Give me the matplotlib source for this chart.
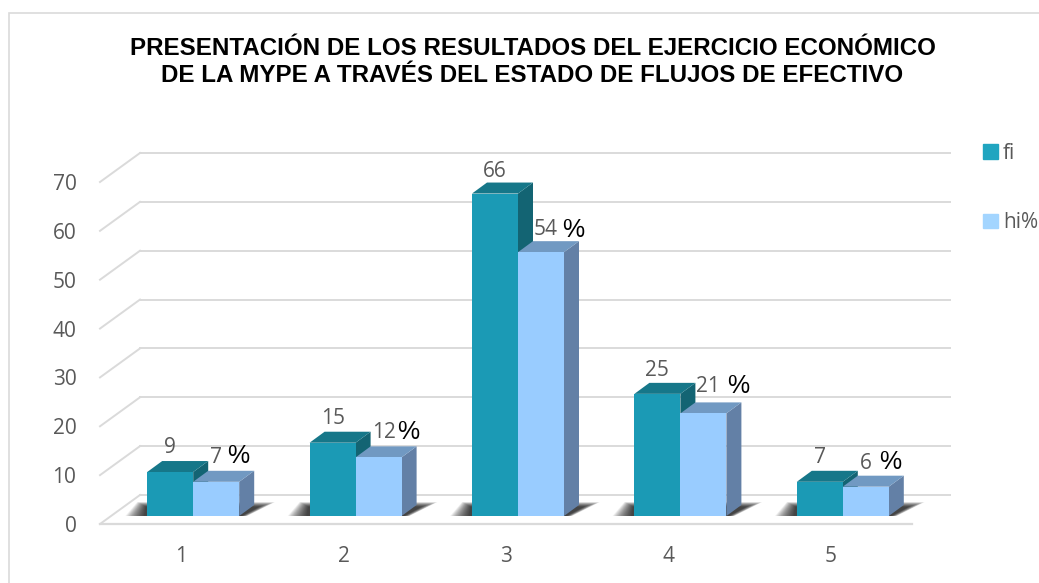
"""3D-look bar chart: fi / hi% per option (Excel style columns)."""
import matplotlib

matplotlib.use("Agg")
import matplotlib.pyplot as plt
from matplotlib.patches import Patch, Rectangle
from matplotlib.transforms import Affine2D

categories = ["1", "2", "3", "4", "5"]
fi = [9, 15, 66, 25, 7]
hi = [7, 12, 54, 21, 6]
yticks = [0, 10, 20, 30, 40, 50, 60, 70]

W, H = 1039, 583
L, R, B, T = 100, 912, 524, 182   # front plane of the plot, in pixels
PX_X = (R - L) / 5                # px per category
PX_Y = (B - T) / 70               # px per unit

GREY = "#595959"
LINE = "#dadada"
C_FI, C_FI_TOP, C_FI_SIDE = "#1b9ab5", "#167789", "#136473"
C_HI, C_HI_TOP, C_HI_SIDE = "#99ccff", "#7199c2", "#6380a6"

plt.rcParams["font.family"] = ["Open Sans", "DejaVu Sans"]
fig = plt.figure(figsize=(W / 100, H / 100), dpi=100)
ax = fig.add_axes([L / W, 1 - B / H, (R - L) / W, (B - T) / H])
ax.set_xlim(0.5, 5.5); ax.set_ylim(0, 70)
ax.patch.set_visible(False)
for s in ax.spines.values():
    s.set_visible(False)

# bars sit a few pixels behind the front plane
OFF = ax.transData + Affine2D().translate(12, 8)

# page frame, runs off the right and bottom edges
fig.add_artist(Rectangle((9 / W, -0.01), 1.1, 1 - 13 / H + 0.01, transform=fig.transFigure,
                         fill=False, ec=LINE, lw=1.2))

# walls and floor
WD_X, WD_Y = 40 / PX_X, 29 / PX_Y
for v in yticks:
    ax.plot([0.5, 0.5 + WD_X], [v, v + WD_Y], color=LINE, lw=1.4, clip_on=False, zorder=1)
    ax.plot([0.5 + WD_X, 5.5 + 38 / PX_X], [v + WD_Y, v + WD_Y], color=LINE, lw=1.4,
            clip_on=False, zorder=1)
ax.plot([0.5, 5.5], [0, 0], color=LINE, lw=1.6, clip_on=False, zorder=1)

# bars
BW = 46 / PX_X
BD_X, BD_Y = 15 / PX_X, 11 / PX_Y
N_SHADOW = 30
for i, (a, b) in enumerate(zip(fi, hi)):
    x = i + 1
    # floor shadow, stacked translucent layers fading outwards
    xl, xr = x - BW, x + BW
    for k in range(N_SHADOW):
        e = (N_SHADOW - k) / N_SHADOW
        top = (9 + 5 * e) / PX_Y
        ax.fill([xl - (2 + 20 * e) / PX_X, xr + (2 + 6 * e) / PX_X,
                 xr + (19 + 17 * e) / PX_X, xl - (1 + 9 * e) / PX_X],
                [0, 0, top, top], color="black", alpha=0.04, lw=0,
                transform=OFF, clip_on=False, zorder=2)
    for x0, v, c, ct, cs, z in [(x - BW, a, C_FI, C_FI_TOP, C_FI_SIDE, 3),
                                (x, b, C_HI, C_HI_TOP, C_HI_SIDE, 4)]:
        ax.fill([x0 + BW, x0 + BW + BD_X, x0 + BW + BD_X, x0 + BW],
                [0, BD_Y, v + BD_Y, v], color=cs, lw=0, transform=OFF, clip_on=False, zorder=z)
        ax.fill([x0, x0 + BD_X, x0 + BW + BD_X, x0 + BW],
                [v, v + BD_Y, v + BD_Y, v], color=ct, lw=0, transform=OFF, clip_on=False, zorder=z)
        ax.bar(x0, v, BW, align="edge", color=c, transform=OFF, clip_on=False, zorder=z + 0.5)

# value labels, hand placed like the original
fi_dy = [25, 24, 22, 23, 24]
hi_dx = [0, 5, 5, 5, 0]
hi_dy = [24, 25, 23, 27, 23]
pct_dx = [22, 30, 32, 35, 24]
pct_dy = [26, 25, 22, 27, 25]
for i, (a, b) in enumerate(zip(fi, hi)):
    x = i + 1
    ax.annotate(str(a), (x - BW / 2, a), xytext=(0, fi_dy[i]), textcoords="offset pixels",
                xycoords=OFF, ha="center", va="center", color=GREY, fontsize=15, zorder=6)
    ax.annotate(str(b), (x + BW / 2, b), xytext=(hi_dx[i], hi_dy[i]), textcoords="offset pixels",
                xycoords=OFF, ha="center", va="center", color=GREY, fontsize=15, zorder=6)
    ax.annotate("%", (x + BW / 2, b), xytext=(pct_dx[i], pct_dy[i]), textcoords="offset pixels",
                xycoords=OFF, ha="center", va="center", color="black", fontsize=18,
                family=["Liberation Sans"], zorder=6)

ax.set_xticks(range(1, 6), categories)
ax.set_yticks(yticks)
ax.tick_params(length=0, labelsize=15, labelcolor=GREY)
ax.tick_params(axis="y", pad=17)
ax.tick_params(axis="x", pad=16)

fig.text(532.5 / W, 1 - 62 / H, "PRESENTACIÓN DE LOS RESULTADOS DEL EJERCICIO ECONÓMICO\n"
         "DE LA MYPE A TRAVÉS DEL ESTADO DE FLUJOS DE EFECTIVO",
         ha="center", va="center", family=["Liberation Sans"], weight="bold",
         fontsize=17.4, color="black", linespacing=1.27)

handles = [Patch(color="#20a5c0", label="fi"), Patch(color="#a3d5ff", label="hi%")]
fig.legend(handles=handles, loc="upper left", bbox_to_anchor=(983 / W, 1 - 143 / H), frameon=False,
           fontsize=15, labelcolor=GREY, handlelength=0.72, handleheight=0.72, handletextpad=0.25,
           labelspacing=2.32, borderpad=0, borderaxespad=0)

fig.savefig("out.png", dpi=100)
